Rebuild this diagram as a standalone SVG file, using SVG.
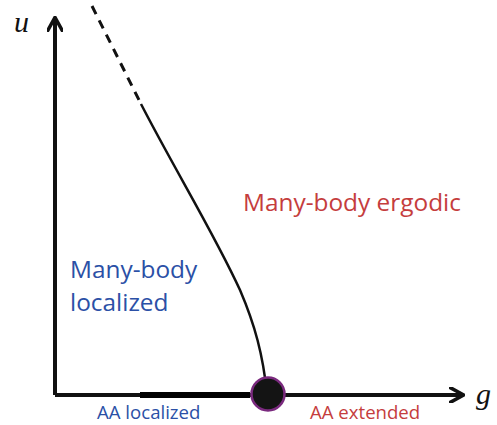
<svg xmlns="http://www.w3.org/2000/svg" width="497" height="425" viewBox="0 0 497 425">
<style>
.ax{stroke:#111;stroke-width:4;fill:none}
.lbl{font-family:"Open Sans","Liberation Sans",sans-serif}
.red{fill:#c53d3d}
.blue{fill:#2b50a6}
.var{font-family:"Liberation Serif",serif;font-style:italic;font-size:30px;fill:#111}
</style>
<defs>
<marker id="arr" viewBox="0 0 10 10" refX="8" refY="5" markerWidth="4" markerHeight="4" orient="auto" markerUnits="strokeWidth">
<path d="M0,0 L9,5 L0,10" fill="none" stroke="#111" stroke-width="2.2"/>
</marker>
</defs>
<g id="connectors">
<path class="ax" d="M55,395 L55,19" marker-end="url(#arr)"/>
<path class="ax" d="M55,395 L462,395" marker-end="url(#arr)"/>
<path d="M140,395 L250,395" stroke="#000" stroke-width="6"/>
<path d="M92,6 L141,104" stroke="#111" stroke-width="3" stroke-dasharray="9,7" fill="none"/>
<path d="M141,104 C175,170 215,235 240,290 C255,325 263,355 267,394" stroke="#111" stroke-width="2.5" fill="none"/>
</g>
<g id="critical-point">
<circle cx="268" cy="394" r="16.5" fill="#141414" stroke="#7a2a7e" stroke-width="2.5"/>
</g>
<g id="axis-u"><text class="var" x="14" y="32">u</text></g>
<g id="axis-g"><text class="var" x="476" y="404">g</text></g>
<g id="mb-ergodic"><text class="lbl red" x="243" y="211" font-size="24.4">Many-body ergodic</text></g>
<g id="mb-localized">
<text class="lbl blue" x="70" y="278" font-size="24.4">Many-body</text>
<text class="lbl blue" x="70" y="311" font-size="24.4">localized</text>
</g>
<g id="aa-localized"><text class="lbl blue" x="97" y="419" font-size="18.6">AA localized</text></g>
<g id="aa-extended"><text class="lbl red" x="310" y="419" font-size="18.6">AA extended</text></g>
</svg>
